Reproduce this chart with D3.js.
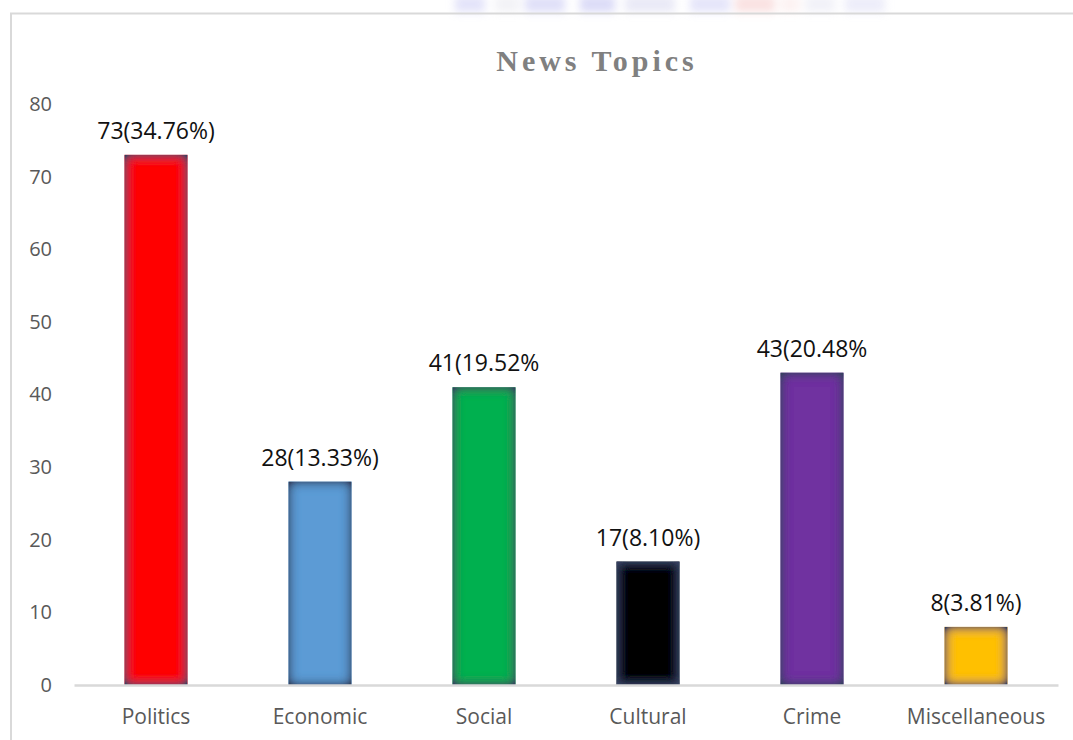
<!DOCTYPE html>
<html>
<head>
<meta charset="utf-8">
<script src="https://cdn.jsdelivr.net/npm/d3@7"></script>
<style>
  html, body { margin: 0; padding: 0; background: #fff; }
  svg { display: block; }
</style>
</head>
<body>
<svg id="chart" width="1073" height="740"></svg>
<script>
// News topic counts with their share of the total
const categories = ["Politics", "Economic", "Social", "Cultural", "Crime", "Miscellaneous"];
const counts = [73, 28, 41, 17, 43, 8];
const valueLabels = ["73(34.76%)", "28(13.33%)", "41(19.52%", "17(8.10%)", "43(20.48%", "8(3.81%)"];
const barColors = ["#ff0000", "#5b9bd5", "#00b050", "#000000", "#7030a0", "#ffc000"];
const yTicks = [0, 10, 20, 30, 40, 50, 60, 70, 80];

const svg = d3.select("#chart");
const W = 1073, H = 740;
const font = "'Open Sans', 'Noto Sans', sans-serif";

const defs = svg.append("defs");

// soft darkened rim on each bar
const rim = defs.append("filter").attr("id", "rim")
  .attr("x", "-50%").attr("y", "-50%").attr("width", "200%").attr("height", "200%");
rim.append("feFlood").attr("flood-color", "#34415f").attr("flood-opacity", 1).attr("result", "f");
rim.append("feComposite").attr("in", "f").attr("in2", "SourceAlpha").attr("operator", "out").attr("result", "outside");
rim.append("feGaussianBlur").attr("in", "outside").attr("stdDeviation", 6).attr("result", "blur");
rim.append("feComponentTransfer").attr("in", "blur").attr("result", "boost")
  .append("feFuncA").attr("type", "linear").attr("slope", 1.5);
rim.append("feComposite").attr("in", "boost").attr("in2", "SourceAlpha").attr("operator", "in").attr("result", "shade");
const merge = rim.append("feMerge");
merge.append("feMergeNode").attr("in", "SourceGraphic");
merge.append("feMergeNode").attr("in", "shade");

const haze = defs.append("filter").attr("id", "haze")
  .attr("x", "-20%").attr("y", "-200%").attr("width", "140%").attr("height", "500%");
haze.append("feGaussianBlur").attr("stdDeviation", 4);

// faded header strip above the frame
const header = svg.append("g").attr("filter", "url(#haze)").attr("opacity", 0.5);
const headerBlocks = [
  [455, 30, "#c8c8f4"], [495, 25, "#e6e6ee"], [525, 40, "#c0c0f2"], [580, 35, "#b8b8f0"],
  [625, 50, "#d4d4ee"], [690, 40, "#cbcbf5"], [735, 40, "#f4c4c4"], [780, 20, "#fbe6e6"],
  [805, 30, "#e4e4f2"], [845, 40, "#dadaf4"]
];
header.selectAll("rect").data(headerBlocks).join("rect")
  .attr("x", d => d[0]).attr("y", -4).attr("width", d => d[1]).attr("height", 16)
  .attr("fill", d => d[2]);

// frame lines
svg.append("line").attr("x1", 10).attr("x2", W).attr("y1", 13.5).attr("y2", 13.5)
  .attr("stroke", "#d9d9d9").attr("stroke-width", 2);
svg.append("line").attr("x1", 11).attr("x2", 11).attr("y1", 13).attr("y2", H)
  .attr("stroke", "#d9d9d9").attr("stroke-width", 2);

// scales
const x = d3.scaleBand().domain(categories).range([74, 1058])
  .paddingInner(0.616).paddingOuter(0.308);
const y = d3.scaleLinear().domain([0, 80]).range([685, 104]);

// title
svg.append("text")
  .attr("x", 597).attr("y", 71)
  .attr("text-anchor", "middle")
  .attr("font-family", "'Liberation Serif', 'Times New Roman', serif")
  .attr("font-weight", "bold")
  .attr("font-size", 30)
  .attr("letter-spacing", 4)
  .attr("fill", "#808080")
  .text("News Topics");

// y axis labels
const yAxis = svg.append("g").attr("transform", "translate(52,0)")
  .call(d3.axisLeft(y).tickValues(yTicks).tickSize(0).tickPadding(0));
yAxis.select(".domain").remove();
yAxis.selectAll("text")
  .attr("font-family", font).attr("font-size", 20).attr("fill", "#595959");

// bars
const rows = categories.map((c, i) => ({ cat: c, v: counts[i], label: valueLabels[i], color: barColors[i] }));
svg.append("g").selectAll("rect").data(rows).join("rect")
  .attr("x", d => x(d.cat))
  .attr("y", d => y(d.v))
  .attr("width", x.bandwidth())
  .attr("height", d => y(0) - y(d.v))
  .attr("fill", d => d.color)
  .attr("filter", "url(#rim)");

// x axis
const xAxis = svg.append("g").attr("transform", `translate(0,${y(0)})`)
  .call(d3.axisBottom(x).tickSize(0).tickPadding(0).tickSizeOuter(0));
xAxis.select(".domain").attr("stroke", "#d9d9d9").attr("stroke-width", 2.5);
xAxis.selectAll("text")
  .attr("y", 39).attr("dy", 0)
  .attr("font-family", font).attr("font-size", 21).attr("fill", "#595959");

// value labels
svg.append("g").selectAll("text").data(rows).join("text")
  .attr("x", d => x(d.cat) + x.bandwidth() / 2)
  .attr("y", d => y(d.v) - 16)
  .attr("text-anchor", "middle")
  .attr("font-family", font).attr("font-size", 23).attr("fill", "#111")
  .text(d => d.label);
</script>
</body>
</html>
